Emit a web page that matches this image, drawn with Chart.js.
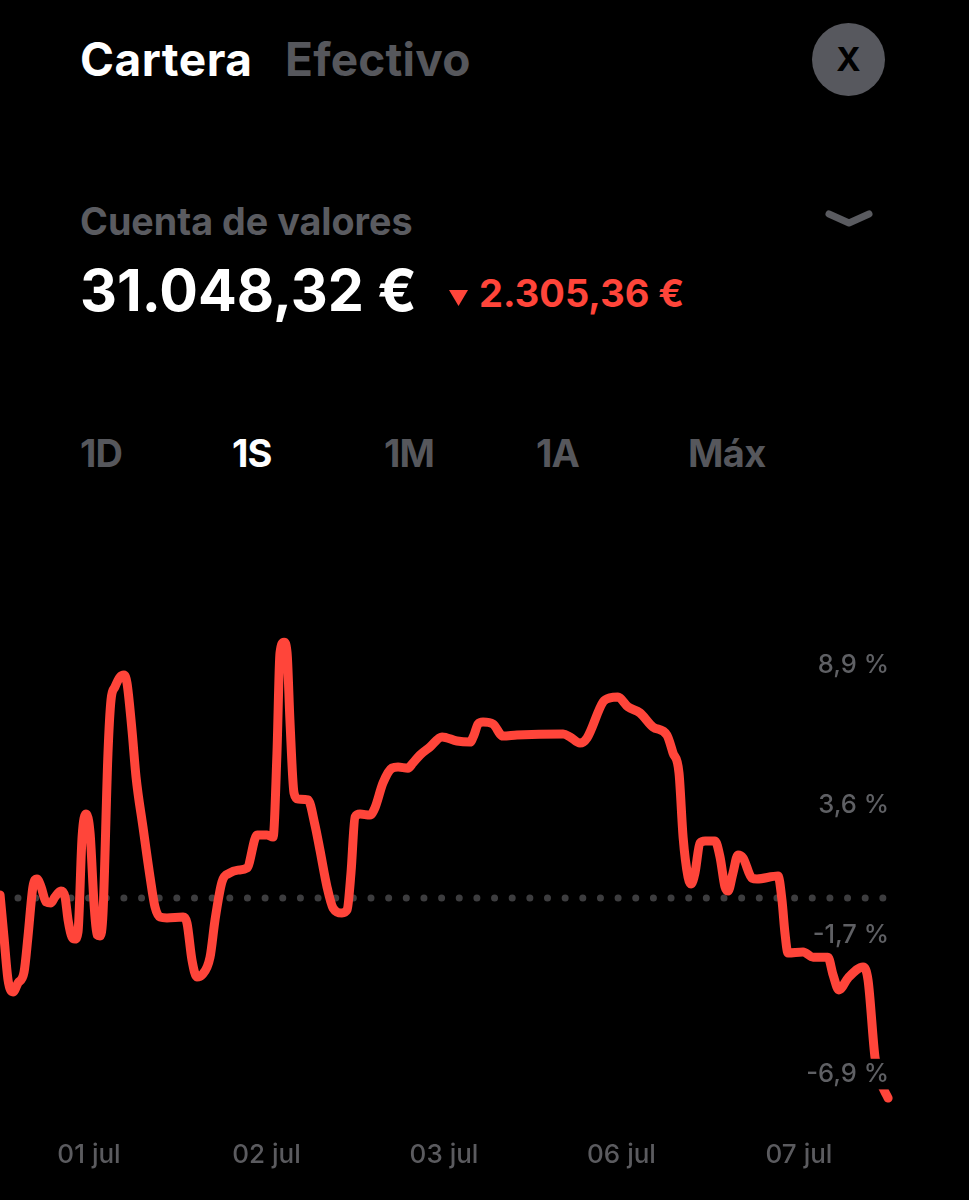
<!DOCTYPE html>
<html lang="es">
<head>
<meta charset="utf-8">
<title>Cartera</title>
<script src="https://cdn.jsdelivr.net/npm/chart.js@4"></script>
<style>
  html,body{margin:0;padding:0;background:#000}
  #app{position:relative;width:969px;height:1200px;background:#000;overflow:hidden;font-family:Inter,'Noto Sans',sans-serif;font-weight:700}
  #app .t{position:absolute;white-space:nowrap;line-height:1}
  .gris{color:#56575c}
  #chart-box{position:absolute;left:0;top:600px;width:969px;height:600px}
</style>
</head>
<body>
<div id="app">
  <div class="t" style="left:80px;top:36px;font-size:46px;letter-spacing:.5px;color:#fff">Cartera</div>
  <div class="t gris" style="left:285px;top:36px;font-size:46px;letter-spacing:.2px">Efectivo</div>
  <div style="position:absolute;left:812px;top:23px;width:73px;height:73px;border-radius:50%;background:#57585e"></div>
  <div class="t" style="left:812px;top:43px;width:73px;text-align:center;font-size:33px;color:#000">X</div>

  <div class="t" style="left:80px;top:203px;font-size:37.7px;color:#5a5b60">Cuenta de valores</div>
  <svg style="position:absolute;left:824px;top:208px" width="50" height="24"><path d="M5 6 L25 15 L45 6" fill="none" stroke="#5a5b60" stroke-width="7" stroke-linecap="round" stroke-linejoin="round"/></svg>

  <div class="t" style="left:80px;top:262px;font-size:57.4px;color:#fff">31.048,32 €</div>
  <svg style="position:absolute;left:449px;top:289px" width="20" height="18"><path d="M0 1 H19 L9.5 17 Z" fill="#ff453a"/></svg>
  <div class="t" style="left:479px;top:274px;font-size:38px;color:#ff453a">2.305,36 €</div>

  <div class="t gris" style="left:80px;top:434px;font-size:38px;letter-spacing:-1px">1D</div>
  <div class="t" style="left:232px;top:434px;font-size:38px;letter-spacing:-1px;color:#fff">1S</div>
  <div class="t gris" style="left:384px;top:434px;font-size:38px;letter-spacing:-1px">1M</div>
  <div class="t gris" style="left:536px;top:434px;font-size:38px;letter-spacing:-1px">1A</div>
  <div class="t gris" style="left:688px;top:434px;font-size:38px;letter-spacing:-.6px">Máx</div>

  <div id="chart-box"><canvas id="cartera-chart"></canvas></div>
</div>

<script>
// Posición en días (0 = 01 jul, sin contar el fin de semana) y rentabilidad en %
const dias = [
  -0.501,-0.479,-0.456,-0.428,-0.400,-0.366,-0.344,-0.316,-0.293,-0.270,
  -0.242,-0.214,-0.192,-0.158,-0.135,-0.118,-0.096,-0.079,-0.062,-0.039,
  -0.017,0.006,0.028,0.045,0.062,0.079,0.107,0.124,0.146,0.175,
  0.197,0.214,0.242,0.265,0.304,0.344,0.372,0.400,0.439,0.530,
  0.552,0.580,0.608,0.637,0.682,0.710,0.749,0.794,0.839,0.890,
  0.947,1.003,1.037,1.059,1.076,1.099,1.116,1.132,1.155,1.178,
  1.234,1.273,1.301,1.341,1.375,1.425,1.454,1.476,1.499,1.527,
  1.583,1.611,1.656,1.707,1.741,1.797,1.825,1.865,1.921,1.989,
  2.073,2.147,2.169,2.192,2.220,2.276,2.332,2.411,2.671,2.710,
  2.766,2.806,2.896,2.935,2.980,3.037,3.104,3.178,3.256,3.290,
  3.324,3.347,3.375,3.392,3.414,3.442,3.471,3.527,3.555,3.583,
  3.600,3.628,3.656,3.685,3.735,3.763,3.882,3.904,3.921,3.938,
  4.023,4.079,4.163,4.192,4.225,4.276,4.361,4.389,4.428,4.456,
  4.502
];
const rentabilidad = [
  0.12,-1.51,-3.18,-3.64,-3.29,-2.87,-1.51,0.43,0.74,0.43,
  -0.15,-0.19,0.04,0.27,0.04,-0.85,-1.51,-1.59,-1.32,2.36,
  3.25,2.52,-0.19,-1.43,-1.47,-0.58,5.62,7.67,8.17,8.56,
  8.64,8.33,6.51,4.69,2.75,0.81,-0.35,-0.74,-0.77,-0.74,
  -0.97,-2.40,-3.06,-2.98,-2.29,-0.85,0.62,0.97,1.08,1.16,
  2.44,2.44,2.36,5.62,9.49,9.91,9.49,6.89,4.07,3.83,
  3.80,2.83,1.86,0.43,-0.39,-0.58,-0.46,0.97,3.14,3.25,
  3.21,3.49,4.45,5.03,5.07,5.03,5.23,5.54,5.85,6.24,
  6.08,6.04,6.31,6.74,6.82,6.74,6.27,6.31,6.35,6.24,
  6.00,6.20,7.59,7.75,7.78,7.40,7.17,6.62,6.31,5.62,
  4.84,2.36,0.81,0.54,0.97,2.13,2.21,2.21,1.59,0.43,
  0.27,0.97,1.67,1.55,0.77,0.74,0.85,-0.08,-1.36,-2.13,
  -2.09,-2.29,-2.29,-2.98,-3.56,-3.10,-2.67,-3.18,-6.16,-7.05,
  -7.75
];

const fechas     = ['01 jul','02 jul','03 jul','06 jul','07 jul'];
const fechasPos  = [0,1,2,3,4];
const yEtiquetas = ['8,9 %','3,6 %','-1,7 %','-6,9 %'];
const yPos       = [9.02,3.60,-1.43,-6.82]; // donde caen las etiquetas en la captura

const ROJO = '#ff453a';

new Chart(document.getElementById('cartera-chart'), {
  type: 'line',
  data: {
    datasets: [
      {
        // línea punteada de referencia
        data: [{x:-0.400,y:0},{x:4.479,y:0}],
        borderColor: '#3d3d3f',
        borderWidth: 7,
        borderDash: [0,17.65],
        borderCapStyle: 'round',
        pointRadius: 0,
        order: 2
      },
      {
        data: dias.map((d,i)=>({x:d,y:rentabilidad[i]})),
        borderColor: ROJO,
        borderWidth: 9,
        borderCapStyle: 'round',
        borderJoinStyle: 'round',
        cubicInterpolationMode: 'monotone',
        pointRadius: 0,
        order: 1
      }
    ]
  },
  options: {
    responsive: true,
    maintainAspectRatio: false,
    animation: false,
    layout: { padding: { top: 20, right: 76, left: 0, bottom: 0 } },
    plugins: { legend: { display: false }, tooltip: { enabled: false } },
    scales: {
      x: {
        type: 'linear',
        min: -0.5014,
        max: 4.5296,
        afterBuildTicks: s => { s.ticks = fechasPos.map(v=>({value:v})); },
        afterFit: s => { s.height = 80; },
        grid: { display: false, drawTicks: false },
        border: { display: false },
        ticks: {
          autoSkip: false,
          maxRotation: 0,
          padding: 20,
          color: '#5b5b5f',
          font: { family: 'Inter', size: 26, weight: '500' },
          callback: (v,i) => fechas[i]
        }
      },
      y: {
        position: 'right',
        min: -8.598,
        max: 10.767,
        afterBuildTicks: s => { s.ticks = yPos.map(v=>({value:v})); },
        afterFit: s => { s.width = 0; },
        grid: { display: false, drawTicks: false },
        border: { display: false },
        ticks: {
          z: 1,
          mirror: true,
          autoSkip: false,
          padding: -4,
          color: '#5f6064',
          font: { family: 'Inter', size: 25.5, weight: '500' },
          showLabelBackdrop: true,
          backdropColor: '#000',
          backdropPadding: 0,
          callback: (v,i) => yEtiquetas[i]
        }
      }
    }
  }
});
</script>
</body>
</html>
